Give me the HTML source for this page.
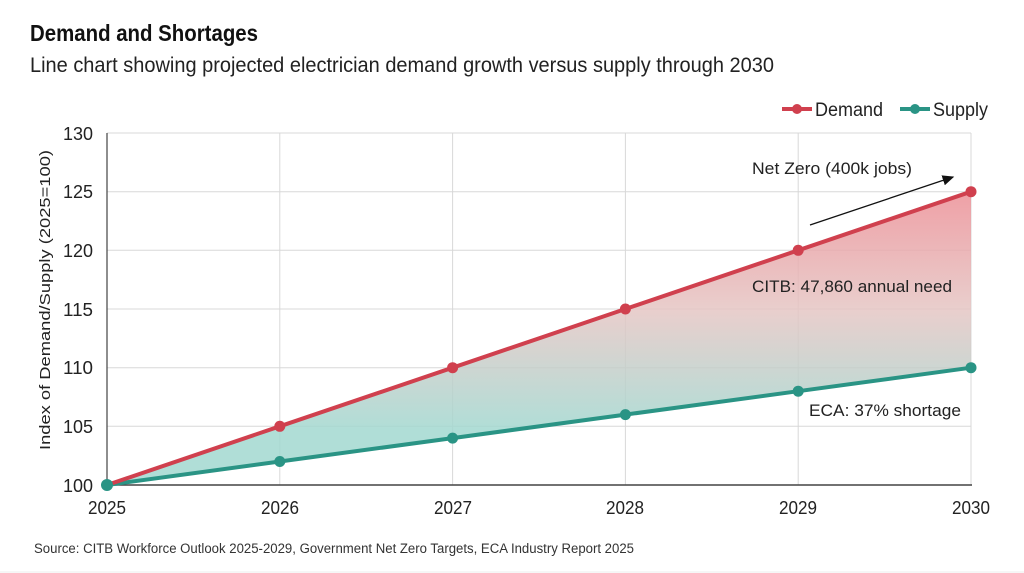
<!DOCTYPE html>
<html><head><meta charset="utf-8"><style>
body{margin:0;background:#fff;}
svg{display:block;font-family:"Liberation Sans",sans-serif;}
</style></head><body>
<svg width="1024" height="573" viewBox="0 0 1024 573">
<defs>
<linearGradient id="fill" x1="0" y1="191" x2="0" y2="430" gradientUnits="userSpaceOnUse">
<stop offset="0" stop-color="#ec8f96"/>
<stop offset="0.5" stop-color="#e5c6c4"/>
<stop offset="1" stop-color="#a2d8d0"/>
</linearGradient>
<marker id="ah" markerWidth="10" markerHeight="10" refX="8" refY="5" orient="auto"><path d="M0,1 L9,5 L0,9 Z" fill="#111"/></marker>
</defs>
<rect width="1024" height="573" fill="#fff"/>
<text x="30" y="41" font-size="23" font-weight="bold" fill="#111" textLength="228" lengthAdjust="spacingAndGlyphs">Demand and Shortages</text>
<text x="30" y="72" font-size="21" fill="#222" textLength="744" lengthAdjust="spacingAndGlyphs">Line chart showing projected electrician demand growth versus supply through 2030</text>
<!-- legend -->
<line x1="782" y1="109" x2="812" y2="109" stroke="#d0404e" stroke-width="4"/><circle cx="797" cy="109" r="5" fill="#d0404e"/>
<text x="815" y="116" font-size="19" fill="#222" textLength="68" lengthAdjust="spacingAndGlyphs">Demand</text>
<line x1="900" y1="109" x2="930" y2="109" stroke="#2a9485" stroke-width="4"/><circle cx="915" cy="109" r="5" fill="#2a9485"/>
<text x="933" y="116" font-size="19" fill="#222" textLength="55" lengthAdjust="spacingAndGlyphs">Supply</text>
<!-- grid -->
<g stroke="#d8d8d8" stroke-width="1">
<line x1="107" y1="133" x2="971" y2="133"/><line x1="107" y1="191.7" x2="971" y2="191.7"/><line x1="107" y1="250.3" x2="971" y2="250.3"/><line x1="107" y1="309" x2="971" y2="309"/><line x1="107" y1="367.7" x2="971" y2="367.7"/><line x1="107" y1="426.3" x2="971" y2="426.3"/>
<line x1="279.8" y1="133" x2="279.8" y2="485"/><line x1="452.6" y1="133" x2="452.6" y2="485"/><line x1="625.4" y1="133" x2="625.4" y2="485"/><line x1="798.2" y1="133" x2="798.2" y2="485"/><line x1="971" y1="133" x2="971" y2="485"/>
</g>
<line x1="107" y1="133" x2="107" y2="485" stroke="#444" stroke-width="1.2"/>
<line x1="107" y1="485" x2="972" y2="485" stroke="#444" stroke-width="1.5"/>
<g font-size="18" fill="#222" text-anchor="end">
<text x="93" y="140" textLength="30" lengthAdjust="spacingAndGlyphs">130</text><text x="93" y="198" textLength="30" lengthAdjust="spacingAndGlyphs">125</text><text x="93" y="257" textLength="30" lengthAdjust="spacingAndGlyphs">120</text><text x="93" y="316" textLength="30" lengthAdjust="spacingAndGlyphs">115</text><text x="93" y="374" textLength="30" lengthAdjust="spacingAndGlyphs">110</text><text x="93" y="433" textLength="30" lengthAdjust="spacingAndGlyphs">105</text><text x="93" y="492" textLength="30" lengthAdjust="spacingAndGlyphs">100</text>
</g>
<g font-size="18" fill="#222" text-anchor="middle">
<text x="107" y="514" textLength="38" lengthAdjust="spacingAndGlyphs">2025</text><text x="280" y="514" textLength="38" lengthAdjust="spacingAndGlyphs">2026</text><text x="453" y="514" textLength="38" lengthAdjust="spacingAndGlyphs">2027</text><text x="625" y="514" textLength="38" lengthAdjust="spacingAndGlyphs">2028</text><text x="798" y="514" textLength="38" lengthAdjust="spacingAndGlyphs">2029</text><text x="971" y="514" textLength="38" lengthAdjust="spacingAndGlyphs">2030</text>
</g>
<text transform="translate(50,300) rotate(-90)" font-size="15" fill="#222" text-anchor="middle" textLength="300" lengthAdjust="spacingAndGlyphs">Index of Demand/Supply (2025=100)</text>
<!-- area -->
<polygon points="107,485 279.8,426.3 452.6,367.7 625.4,309 798.2,250.3 971,191.7 971,367.7 798.2,391.2 625.4,414.6 452.6,438.1 279.8,461.5" fill="url(#fill)" opacity="0.85"/>
<polyline points="107,485 279.8,461.5 452.6,438.1 625.4,414.6 798.2,391.2 971,367.7" fill="none" stroke="#2a9485" stroke-width="4"/>
<polyline points="107,485 279.8,426.3 452.6,367.7 625.4,309 798.2,250.3 971,191.7" fill="none" stroke="#d0404e" stroke-width="4"/>
<g fill="#d0404e"><circle cx="279.8" cy="426.3" r="5.5"/><circle cx="452.6" cy="367.7" r="5.5"/><circle cx="625.4" cy="309" r="5.5"/><circle cx="798.2" cy="250.3" r="5.5"/><circle cx="971" cy="191.7" r="5.5"/></g>
<g fill="#2a9485"><circle cx="107" cy="485" r="6"/><circle cx="279.8" cy="461.5" r="5.5"/><circle cx="452.6" cy="438.1" r="5.5"/><circle cx="625.4" cy="414.6" r="5.5"/><circle cx="798.2" cy="391.2" r="5.5"/><circle cx="971" cy="367.7" r="5.5"/></g>
<!-- annotations -->
<text x="752" y="174" font-size="17" fill="#222" textLength="160" lengthAdjust="spacingAndGlyphs">Net Zero (400k jobs)</text>
<line x1="810" y1="225" x2="953" y2="177" stroke="#111" stroke-width="1.3" marker-end="url(#ah)"/>
<text x="752" y="292" font-size="17" fill="#222" textLength="200" lengthAdjust="spacingAndGlyphs">CITB: 47,860 annual need</text>
<text x="809" y="416" font-size="17" fill="#222" textLength="152" lengthAdjust="spacingAndGlyphs">ECA: 37% shortage</text>
<text x="34" y="553" font-size="13.5" fill="#333" textLength="600" lengthAdjust="spacingAndGlyphs">Source: CITB Workforce Outlook 2025-2029, Government Net Zero Targets, ECA Industry Report 2025</text>
<line x1="0" y1="572" x2="1024" y2="572" stroke="#eee"/>
</svg>
</body></html>
